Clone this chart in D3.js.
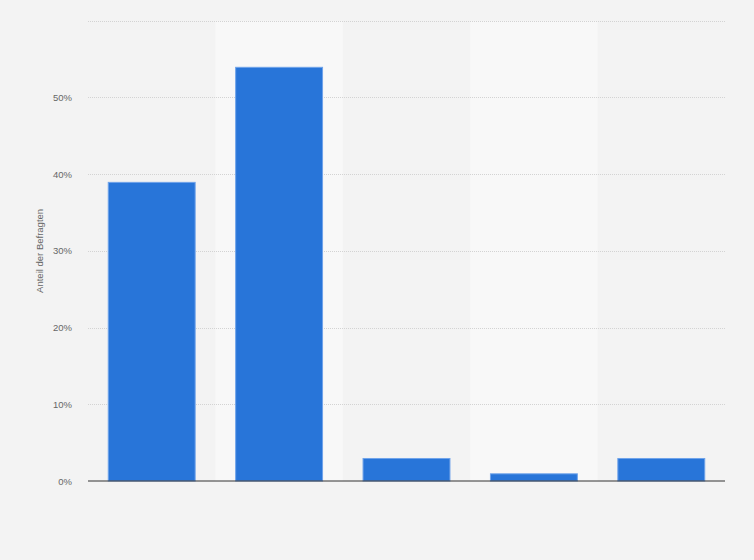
<!DOCTYPE html>
<html><head><meta charset="utf-8">
<script src="https://cdn.jsdelivr.net/npm/d3@7/dist/d3.min.js"></script>
<style>
html,body{margin:0;padding:0;background:#f3f3f3;}
svg{display:block;}
</style></head>
<body>
<svg id="chart" width="754" height="560"></svg>
<script>
const categories = ["A", "B", "C", "D", "E"];
const values = [39, 54, 3, 1, 3];
const yTicks = [0, 10, 20, 30, 40, 50, 60];
const yTickLabels = ["0%", "10%", "20%", "30%", "40%", "50%", ""];
const yAxisTitle = "Anteil der Befragten";

const svg = d3.select("#chart");
const W = 754, H = 560;
const m = {left: 88, right: 29, top: 20.8, bottom: 79};
const x = d3.scaleBand().domain(categories).range([m.left, W - m.right]).paddingInner(0.31).paddingOuter(0.155);
const xb = d3.scaleBand().domain(categories).range([m.left, W - m.right]).padding(0);
const y = d3.scaleLinear().domain([0, 60]).range([H - m.bottom, m.top]);

svg.append("rect").attr("width", W).attr("height", H).attr("fill", "#f3f3f3");

// alternating column bands
svg.append("g").selectAll("rect").data(categories.filter((d, i) => i % 2 === 1)).join("rect")
  .attr("x", d => xb(d)).attr("width", xb.bandwidth())
  .attr("y", y(60)).attr("height", y(0) - y(60))
  .attr("fill", "#f8f8f8");

// gridlines
svg.append("g").selectAll("line").data(yTicks.filter(t => t > 0)).join("line")
  .attr("x1", m.left).attr("x2", W - m.right)
  .attr("y1", d => Math.round(y(d)) + 0.5).attr("y2", d => Math.round(y(d)) + 0.5)
  .attr("stroke", "#d3d3d3").attr("stroke-width", 1).attr("stroke-dasharray", "1,1");

// y axis labels
const yAxis = d3.axisLeft(y).tickValues(yTicks).tickSize(0).tickPadding(16)
  .tickFormat((d, i) => yTickLabels[i]);
const ya = svg.append("g").attr("transform", `translate(${m.left},0)`).call(yAxis);
ya.select(".domain").remove();
ya.selectAll("text").attr("font-family", "Liberation Sans, Arial, sans-serif")
  .attr("font-size", 9.5).attr("fill", "#666");

// bars
svg.append("g").selectAll("rect").data(values).join("rect")
  .attr("x", (d, i) => x(categories[i]) + 0.5).attr("width", x.bandwidth() - 1)
  .attr("y", d => y(d) + 0.5).attr("height", d => y(0) - y(d) - 0.5)
  .attr("fill", "#2875d9").attr("stroke", "#6fa3ea").attr("stroke-width", 1);

// baseline
svg.append("line").attr("x1", m.left).attr("x2", W - m.right)
  .attr("y1", y(0)).attr("y2", y(0)).attr("stroke", "#333").attr("stroke-width", 1.2);

// y title
svg.append("text").attr("transform", `translate(43,${(y(0) + y(60)) / 2 }) rotate(-90)`)
  .attr("text-anchor", "middle").attr("font-family", "Liberation Sans, Arial, sans-serif")
  .attr("font-size", 9.5).attr("fill", "#666").text(yAxisTitle);
</script>
</body></html>
